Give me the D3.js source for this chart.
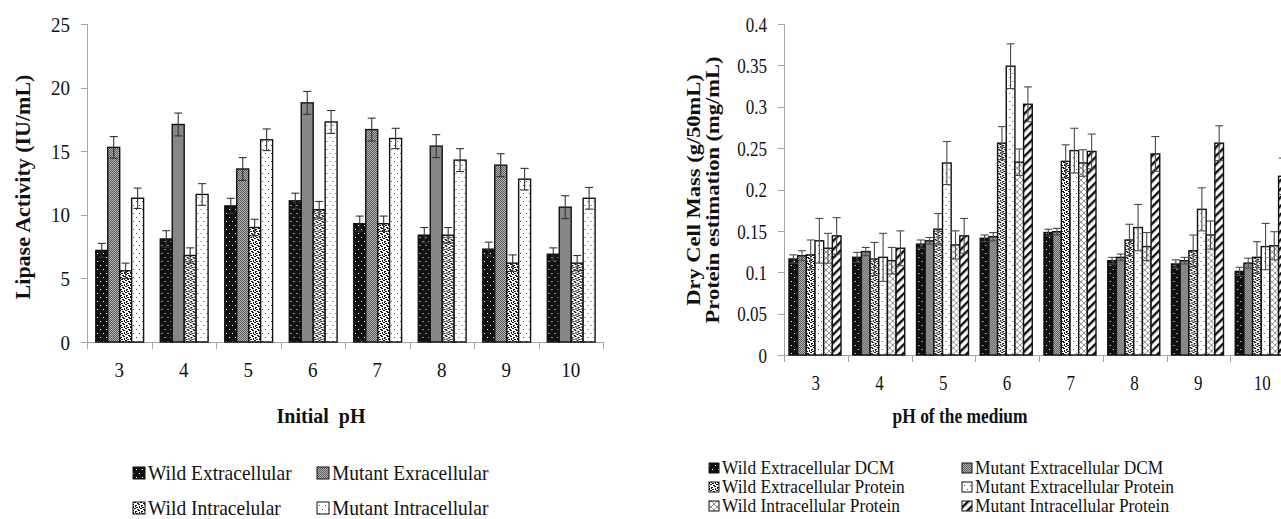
<!DOCTYPE html>
<html>
<head>
<meta charset="utf-8">
<style>
    html,
    body {
        margin: 0;
        padding: 0;
        background-color: #ffffff;
    }

    svg {
        display: block;
        font-family: "Liberation Serif", "Times New Roman", serif;
    }

    .axis path,
    .axis line {
        stroke: #a6a6a6;
        shape-rendering: crispEdges;
    }

    .axis text {
        fill: #111111;
    }
</style>
</head>
<body>
<svg id="chart" width="1281" height="519"></svg>

<script src="https://d3js.org/d3.v7.min.js"></script>
<script>
    // ---------- left chart: lipase activity ----------
    var lipasePh = ["3", "4", "5", "6", "7", "8", "9", "10"];
    var lipaseTicks = [0, 5, 10, 15, 20, 25];
    var wildExtra = [7.2, 8.1, 10.7, 11.1, 9.3, 8.4, 7.3, 6.9];
    var mutantExtra = [15.3, 17.1, 13.6, 18.8, 16.7, 15.4, 13.9, 10.6];
    var wildIntra = [5.6, 6.8, 9.0, 10.4, 9.3, 8.4, 6.2, 6.2];
    var mutantIntra = [11.3, 11.6, 15.9, 17.3, 16.0, 14.3, 12.8, 11.3];
    var wildExtraErr = [0.55, 0.65, 0.6, 0.6, 0.6, 0.6, 0.55, 0.5];
    var mutantExtraErr = [0.85, 0.9, 0.9, 0.9, 0.9, 0.9, 0.9, 0.9];
    var wildIntraErr = [0.6, 0.6, 0.65, 0.65, 0.6, 0.6, 0.65, 0.6];
    var mutantIntraErr = [0.8, 0.85, 0.85, 0.9, 0.8, 0.9, 0.85, 0.85];

    // ---------- right chart: dry cell mass / protein ----------
    var mediumPh = ["3", "4", "5", "6", "7", "8", "9", "10"];
    var mediumTicks = [0, 0.05, 0.1, 0.15, 0.2, 0.25, 0.3, 0.35, 0.4];
    var wildExtraDcm = [0.116, 0.118, 0.134, 0.141, 0.148, 0.114, 0.110, 0.101];
    var mutantExtraDcm = [0.120, 0.125, 0.138, 0.143, 0.149, 0.118, 0.114, 0.111];
    var wildExtraProt = [0.121, 0.116, 0.152, 0.256, 0.234, 0.139, 0.126, 0.118];
    var mutantExtraProt = [0.138, 0.118, 0.232, 0.349, 0.247, 0.154, 0.176, 0.131];
    var wildIntraProt = [0.129, 0.114, 0.133, 0.233, 0.232, 0.131, 0.145, 0.132];
    var mutantIntraProt = [0.144, 0.129, 0.144, 0.303, 0.246, 0.243, 0.256, 0.216];
    var wildExtraDcmErr = [0.005, 0.006, 0.005, 0.004, 0.004, 0.004, 0.005, 0.005];
    var mutantExtraDcmErr = [0.006, 0.005, 0.004, 0.005, 0.004, 0.004, 0.004, 0.006];
    var wildExtraProtErr = [0.018, 0.02, 0.019, 0.02, 0.02, 0.019, 0.019, 0.019];
    var mutantExtraProtErr = [0.027, 0.029, 0.026, 0.027, 0.027, 0.028, 0.026, 0.028];
    var wildIntraProtErr = [0.018, 0.016, 0.017, 0.016, 0.016, 0.017, 0.017, 0.017];
    var mutantIntraProtErr = [0.022, 0.021, 0.021, 0.021, 0.021, 0.021, 0.021, 0.022];

    var svg = d3.select("#chart");
    var defs = svg.append("defs");

    // ---- fill patterns (Excel style) ----
    function pattern(id, w, h) {
        return defs.append("pattern")
            .attr("id", id)
            .attr("patternUnits", "userSpaceOnUse")
            .attr("width", w)
            .attr("height", h);
    }

    var p = pattern("blackDots", 6, 8);
    p.append("rect").attr("width", 6).attr("height", 8).attr("fill", "#111");
    p.append("rect").attr("x", 1).attr("y", 1).attr("width", 1).attr("height", 1).attr("fill", "#fff");
    p.append("rect").attr("x", 4).attr("y", 5).attr("width", 1).attr("height", 1).attr("fill", "#fff");

    p = pattern("grayCheck", 2, 2);
    p.append("rect").attr("width", 2).attr("height", 2).attr("fill", "#b4b4b4");
    p.append("rect").attr("width", 1).attr("height", 1).attr("fill", "#5a5a5a");
    p.append("rect").attr("x", 1).attr("y", 1).attr("width", 1).attr("height", 1).attr("fill", "#5a5a5a");

    p = pattern("mottle", 6, 6);
    p.append("rect").attr("width", 6).attr("height", 6).attr("fill", "#fff");
    [[0, 0, 2, 1], [3, 1, 2, 1], [1, 2, 1, 2], [4, 3, 2, 1], [2, 4, 2, 1], [0, 5, 1, 1], [5, 5, 1, 1], [3, 2, 1, 1]]
        .forEach(function (r) {
            p.append("rect").attr("x", r[0]).attr("y", r[1]).attr("width", r[2]).attr("height", r[3]).attr("fill", "#111");
        });

    p = pattern("whiteDots", 6, 8);
    p.append("rect").attr("width", 6).attr("height", 8).attr("fill", "#fff");
    p.append("rect").attr("x", 1).attr("y", 1).attr("width", 1).attr("height", 1).attr("fill", "#555");
    p.append("rect").attr("x", 4).attr("y", 5).attr("width", 1).attr("height", 1).attr("fill", "#555");

    p = pattern("crossHatch", 6, 6);
    p.append("rect").attr("width", 6).attr("height", 6).attr("fill", "#fff");
    p.append("path").attr("d", "M0,0L6,6M6,0L0,6").attr("stroke", "#777").attr("stroke-width", 0.8);

    p = pattern("stripes", 6, 6).attr("patternTransform", "rotate(45)");
    p.append("rect").attr("width", 6).attr("height", 6).attr("fill", "#fff");
    p.append("rect").attr("width", 2.4).attr("height", 6).attr("fill", "#111");

    // stretched text helper (the source image is stretched vertically)
    function label(g, x, y, str, size, opts) {
        opts = opts || {};
        var t = g.append("text")
            .attr("font-size", size)
            .attr("font-weight", opts.bold ? "bold" : "normal")
            .attr("text-anchor", opts.anchor || "start")
            .attr("fill", "#111")
            .style("white-space", "pre")
            .text(str);
        if (opts.rotate) {
            t.attr("transform", "translate(" + x + "," + y + ") rotate(-90) scale(" + opts.sy + ",1)");
        } else {
            t.attr("transform", "translate(" + x + "," + y + ") scale(1," + opts.sy + ")");
        }
        return t;
    }

    function drawChart(cfg) {
        var g = svg.append("g");

        var x = d3.scaleBand()
            .domain(cfg.categories)
            .range([cfg.left, cfg.right])
            .padding(0);

        var inner = d3.scaleBand()
            .domain(cfg.series.map(function (s) { return s.name; }))
            .range(cfg.innerRange)
            .padding(0);

        var y = d3.scaleLinear()
            .domain(cfg.yDomain)
            .range([cfg.bottom, cfg.top]);

        // y axis
        var yAxis = g.append("g")
            .attr("class", "axis")
            .attr("transform", "translate(" + cfg.left + ",0)")
            .call(d3.axisLeft(y).tickValues(cfg.ticks).tickSize(6).tickSizeOuter(0).tickFormat(d3.format("~g")));
        yAxis.select(".domain").remove();
        yAxis.append("line")
            .attr("y1", y(cfg.yDomain[0])).attr("y2", y(cfg.yDomain[1]))
            .attr("stroke", "#a6a6a6");
        yAxis.selectAll("text")
            .attr("x", null).attr("dy", null)
            .attr("font-size", cfg.tickSize)
            .attr("font-family", "Liberation Serif")
            .attr("transform", "translate(-17," + (cfg.tickSize * 0.34 * cfg.sy) + ") scale(1," + cfg.sy + ")");

        // x axis: line with separators between groups
        var sep = d3.scaleLinear().domain([0, cfg.categories.length]).range([cfg.left, cfg.right]);
        g.append("g")
            .attr("class", "axis")
            .attr("transform", "translate(0," + cfg.bottom + ")")
            .call(d3.axisBottom(sep).ticks(cfg.categories.length).tickSize(7).tickSizeOuter(0).tickFormat(""));

        var xAxis = g.append("g")
            .attr("class", "axis")
            .attr("transform", "translate(0," + cfg.bottom + ")")
            .call(d3.axisBottom(x).tickSize(0));
        xAxis.select(".domain").remove();
        xAxis.selectAll("text")
            .attr("y", null).attr("dy", null)
            .attr("font-size", cfg.tickSize)
            .attr("font-family", "Liberation Serif")
            .attr("transform", "translate(0," + cfg.xLabelGap + ") scale(1," + cfg.sy + ")");

        // bars
        var groups = g.append("g").selectAll("g")
            .data(cfg.categories)
            .join("g")
            .attr("transform", function (d) { return "translate(" + x(d) + ",0)"; });

        cfg.series.forEach(function (s) {
            groups.append("rect")
                .attr("x", inner(s.name))
                .attr("y", function (d, i) { return y(s.values[i]); })
                .attr("width", inner.bandwidth())
                .attr("height", function (d, i) { return y(0) - y(s.values[i]); })
                .attr("fill", "url(#" + s.fill + ")")
                .attr("stroke", "#111")
                .attr("stroke-width", 1.4);
        });

        // error bars
        cfg.series.forEach(function (s) {
            var cx = inner(s.name) + inner.bandwidth() / 2;
            var eb = groups.append("g").attr("stroke", cfg.errColor).attr("stroke-width", 1.1);
            eb.append("line")
                .attr("x1", cx).attr("x2", cx)
                .attr("y1", function (d, i) { return y(s.values[i] - s.errors[i]); })
                .attr("y2", function (d, i) { return y(s.values[i] + s.errors[i]); });
            [-1, 1].forEach(function (sign) {
                eb.append("line")
                    .attr("x1", cx - cfg.cap).attr("x2", cx + cfg.cap)
                    .attr("y1", function (d, i) { return y(s.values[i] + sign * s.errors[i]); })
                    .attr("y2", function (d, i) { return y(s.values[i] + sign * s.errors[i]); });
            });
        });

        // axis titles
        label(g, cfg.xTitle.x, cfg.xTitle.y, cfg.xTitle.text, cfg.xTitle.size, { bold: true, anchor: "middle", sy: cfg.sy });
        cfg.yTitle.lines.forEach(function (line, i) {
            label(g, cfg.yTitle.x[i], cfg.yTitle.y, line, cfg.yTitle.size, { bold: true, anchor: "middle", rotate: true, sy: cfg.sy });
        });

        // legend
        cfg.series.forEach(function (s, i) {
            var lx = cfg.legend.cols[i % 2];
            var ly = cfg.legend.rows[Math.floor(i / 2)];
            g.append("rect")
                .attr("x", lx).attr("y", ly - cfg.legend.box - 1)
                .attr("width", cfg.legend.box).attr("height", cfg.legend.box)
                .attr("fill", "url(#" + s.fill + ")")
                .attr("stroke", "#111").attr("stroke-width", 1);
            label(g, lx + cfg.legend.box + 3, ly, s.name, cfg.legend.size, { sy: cfg.legend.sy });
        });
    }

    drawChart({
        categories: lipasePh,
        ticks: lipaseTicks,
        yDomain: [0, 25],
        left: 87, right: 603, top: 24, bottom: 342,
        innerRange: [8.8, 56.6],
        sy: 1.1,
        tickSize: 19,
        xLabelGap: 35,
        cap: 4,
        errColor: "#333",
        series: [
            { name: "Wild Extracellular", values: wildExtra, errors: wildExtraErr, fill: "blackDots" },
            { name: "Mutant Exracellular", values: mutantExtra, errors: mutantExtraErr, fill: "grayCheck" },
            { name: "Wild Intracelular", values: wildIntra, errors: wildIntraErr, fill: "mottle" },
            { name: "Mutant Intracellular", values: mutantIntra, errors: mutantIntraErr, fill: "whiteDots" }
        ],
        xTitle: { text: "Initial  pH", x: 321, y: 423, size: 20 },
        yTitle: { lines: ["Lipase Activity (IU/mL)"], x: [30], y: 187, size: 20 },
        legend: { cols: [133, 317], rows: [480, 515], box: 12, size: 19.5, sy: 1.1 }
    });

    drawChart({
        categories: mediumPh,
        ticks: mediumTicks,
        yDomain: [0, 0.4],
        left: 784, right: 1294, top: 24, bottom: 355,
        innerRange: [5, 57],
        sy: 1.25,
        tickSize: 17,
        xLabelGap: 35,
        cap: 4,
        errColor: "#4a4a4a",
        series: [
            { name: "Wild Extracellular DCM", values: wildExtraDcm, errors: wildExtraDcmErr, fill: "blackDots" },
            { name: "Mutant Extracellular DCM", values: mutantExtraDcm, errors: mutantExtraDcmErr, fill: "grayCheck" },
            { name: "Wild Extracellular Protein", values: wildExtraProt, errors: wildExtraProtErr, fill: "mottle" },
            { name: "Mutant Extracellular Protein", values: mutantExtraProt, errors: mutantExtraProtErr, fill: "whiteDots" },
            { name: "Wild Intracellular Protein", values: wildIntraProt, errors: wildIntraProtErr, fill: "crossHatch" },
            { name: "Mutant Intracellular Protein", values: mutantIntraProt, errors: mutantIntraProtErr, fill: "stripes" }
        ],
        xTitle: { text: "pH of the medium", x: 960, y: 423, size: 17.4 },
        yTitle: { lines: ["Dry Cell Mass (g/50mL)", "Protein estimation (mg/mL)"], x: [700, 719], y: 190, size: 18 },
        legend: { cols: [709, 962], rows: [474, 493, 512], box: 10, size: 17.4, sy: 1.05 }
    });
</script>
</body>
</html>
